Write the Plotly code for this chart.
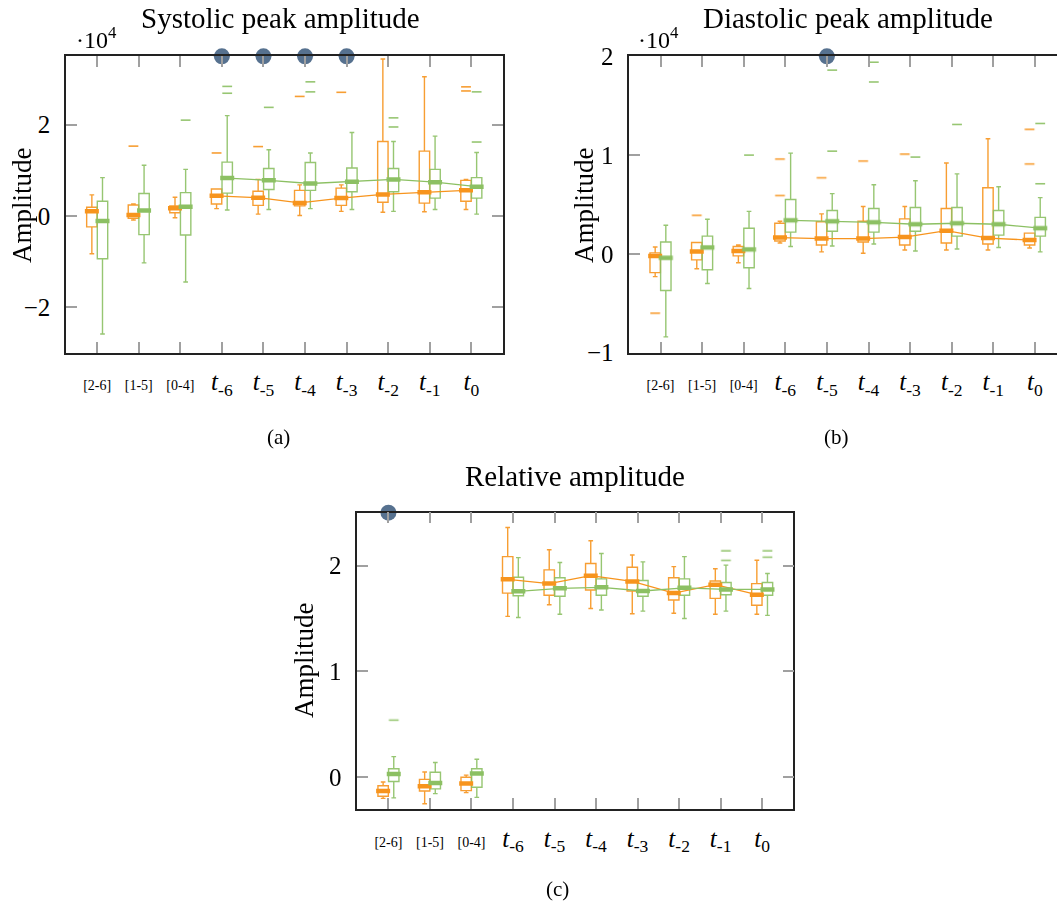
import plotly.graph_objects as go

W, H = 1057, 911
FONT = "Liberation Serif"
ORANGE = "#F7941D"
GREEN = "#8CC063"
DOT = "#56718F"

cats = ["[2-6]", "[1-5]", "[0-4]", "t-6", "t-5", "t-4", "t-3", "t-2", "t-1", "t0"]
tick_text = ["<span style='font-size:14px'>[2-6]</span>",
             "<span style='font-size:14px'>[1-5]</span>",
             "<span style='font-size:14px'>[0-4]</span>",
             "<i>t</i><sub>-6</sub>", "<i>t</i><sub>-5</sub>", "<i>t</i><sub>-4</sub>",
             "<i>t</i><sub>-3</sub>", "<i>t</i><sub>-2</sub>", "<i>t</i><sub>-1</sub>",
             "<i>t</i><sub>0</sub>"]

# ---------------- (a) Systolic peak amplitude  (x 10^4) ----------------
a_or_q1 = [-0.24, -0.05, 0.07, 0.26, 0.23, 0.22, 0.23, 0.30, 0.28, 0.32]
a_or_med = [0.10, 0.02, 0.17, 0.44, 0.40, 0.285, 0.39, 0.47, 0.52, 0.56]
a_or_q3 = [0.19, 0.24, 0.22, 0.59, 0.54, 0.56, 0.61, 1.63, 1.42, 0.78]
a_or_lo = [-0.83, -0.09, -0.04, 0.16, 0.04, 0.01, 0.10, 0.08, 0.09, 0.14]
a_or_hi = [0.46, 0.26, 0.41, 0.59, 0.80, 0.68, 0.68, 3.44, 3.05, 0.80]
a_or_out = [[], [1.53], [], [1.38], [1.52], [2.62], [2.71], [], [], [2.83, 2.74]]
a_gr_q1 = [-0.94, -0.41, -0.42, 0.50, 0.58, 0.56, 0.53, 0.53, 0.39, 0.39]
a_gr_med = [-0.11, 0.12, 0.20, 0.83, 0.78, 0.71, 0.75, 0.80, 0.74, 0.64]
a_gr_q3 = [0.32, 0.49, 0.51, 1.18, 1.04, 1.17, 1.05, 1.04, 1.02, 0.84]
a_gr_lo = [-2.59, -1.03, -1.45, 0.13, 0.14, 0.16, 0.14, 0.10, 0.14, 0.04]
a_gr_hi = [0.84, 1.11, 1.02, 2.20, 1.45, 1.38, 1.83, 1.63, 1.75, 1.39]
a_gr_out = [[], [], [2.10], [2.84, 2.69], [2.38], [2.94, 2.72], [], [2.15, 1.95], [], [2.72, 1.62]]
a_sig = [3, 4, 5, 6]

# ---------------- (b) Diastolic peak amplitude (x 10^4) ----------------
b_or_q1 = [-0.19, -0.06, -0.02, 0.13, 0.09, 0.12, 0.09, 0.11, 0.10, 0.09]
b_or_med = [-0.02, 0.025, 0.03, 0.165, 0.155, 0.155, 0.17, 0.235, 0.16, 0.14]
b_or_q3 = [0.01, 0.115, 0.075, 0.31, 0.325, 0.33, 0.355, 0.46, 0.67, 0.21]
b_or_lo = [-0.23, -0.15, -0.09, 0.11, 0.02, 0.007, 0.04, 0.04, 0.04, 0.06]
b_or_hi = [0.07, 0.115, 0.09, 0.33, 0.405, 0.48, 0.48, 0.92, 1.165, 0.21]
b_or_out = [[-0.60], [0.39], [], [0.96, 0.59], [0.77], [0.94], [1.01], [], [], [1.26, 0.91]]
b_gr_q1 = [-0.37, -0.16, -0.14, 0.22, 0.23, 0.22, 0.23, 0.18, 0.19, 0.18]
b_gr_med = [-0.04, 0.065, 0.045, 0.34, 0.33, 0.32, 0.30, 0.31, 0.30, 0.26]
b_gr_q3 = [0.12, 0.18, 0.26, 0.55, 0.44, 0.46, 0.47, 0.47, 0.44, 0.37]
b_gr_lo = [-0.84, -0.30, -0.35, 0.075, 0.08, 0.10, 0.03, 0.05, 0.065, 0.02]
b_gr_hi = [0.29, 0.35, 0.43, 1.02, 0.61, 0.70, 0.74, 0.81, 0.68, 0.57]
b_gr_out = [[], [], [1.00], [], [1.04, 1.86], [1.94, 1.74], [0.98], [1.31], [], [1.32, 0.71]]
b_sig = [4]

# ---------------- (c) Relative amplitude ----------------
c_or_q1 = [-0.18, -0.13, -0.126, 1.74, 1.72, 1.77, 1.76, 1.675, 1.69, 1.625]
c_or_med = [-0.13, -0.085, -0.06, 1.87, 1.83, 1.905, 1.85, 1.74, 1.82, 1.725]
c_or_q3 = [-0.08, -0.02, 0.0, 2.085, 1.96, 2.02, 1.985, 1.885, 1.855, 1.83]
c_or_lo = [-0.20, -0.25, -0.145, 1.52, 1.63, 1.595, 1.545, 1.55, 1.54, 1.54]
c_or_hi = [-0.045, 0.05, 0.02, 2.36, 2.15, 2.235, 2.10, 1.99, 1.97, 2.05]
c_or_out = [[], [], [], [], [], [], [], [], [], []]
c_gr_q1 = [-0.04, -0.11, -0.095, 1.715, 1.71, 1.72, 1.71, 1.72, 1.725, 1.72]
c_gr_med = [0.03, -0.054, 0.035, 1.757, 1.785, 1.795, 1.76, 1.79, 1.775, 1.775]
c_gr_q3 = [0.08, 0.047, 0.08, 1.89, 1.885, 1.875, 1.86, 1.875, 1.84, 1.84]
c_gr_lo = [-0.195, -0.155, -0.19, 1.51, 1.54, 1.58, 1.57, 1.50, 1.57, 1.53]
c_gr_hi = [0.195, 0.14, 0.17, 2.075, 2.03, 2.115, 2.035, 2.085, 2.005, 1.925]
c_gr_out = [[0.54], [], [], [], [], [], [], [], [2.14, 2.05], [2.14, 2.08]]
c_sig = [0]

OFF = 0.128
BOXW = 0.25
n = len(cats)
pos = list(range(n))
t_idx = [i for i, c in enumerate(cats) if c.startswith("t")]

fig = go.Figure()


def add_series(xa, ya, off, color, q1, med, q3, lo, hi, outs):
    xs = [p + off for p in pos]
    fig.add_trace(go.Box(
        x=xs, q1=q1, median=med, q3=q3, lowerfence=lo, upperfence=hi,
        orientation="v", width=BOXW, whiskerwidth=0.45,
        line=dict(color=color, width=1.4), fillcolor="rgba(0,0,0,0)",
        boxpoints=False, xaxis=xa, yaxis=ya, showlegend=False, opacity=0.9))
    fig.add_trace(go.Scatter(
        x=[xs[i] for i in t_idx], y=[med[i] for i in t_idx], mode="lines",
        line=dict(color=color, width=1.3), xaxis=xa, yaxis=ya, showlegend=False))
    fig.add_trace(go.Scatter(
        x=xs, y=med, mode="markers",
        marker=dict(symbol="line-ew", size=10, line=dict(color=color, width=4.5)),
        xaxis=xa, yaxis=ya, showlegend=False))
    ox, oy = [], []
    for i, vals in enumerate(outs):
        for v in vals:
            ox.append(xs[i])
            oy.append(v)
    if ox:
        fig.add_trace(go.Scatter(
            x=ox, y=oy, mode="markers",
            marker=dict(symbol="line-ew", size=7, line=dict(color=color, width=1.6)),
            xaxis=xa, yaxis=ya, showlegend=False, opacity=0.9))


def add_sig(xa, ya, sig, ytop):
    fig.add_trace(go.Scatter(
        x=sig, y=[ytop] * len(sig), mode="markers", cliponaxis=False,
        marker=dict(size=16, color=DOT), xaxis=xa, yaxis=ya, showlegend=False))


add_series("x", "y", -OFF, ORANGE, a_or_q1, a_or_med, a_or_q3, a_or_lo, a_or_hi, a_or_out)
add_series("x", "y", OFF, GREEN, a_gr_q1, a_gr_med, a_gr_q3, a_gr_lo, a_gr_hi, a_gr_out)
add_sig("x", "y", a_sig, 3.5)

add_series("x2", "y2", -OFF, ORANGE, b_or_q1, b_or_med, b_or_q3, b_or_lo, b_or_hi, b_or_out)
add_series("x2", "y2", OFF, GREEN, b_gr_q1, b_gr_med, b_gr_q3, b_gr_lo, b_gr_hi, b_gr_out)
add_sig("x2", "y2", b_sig, 2.0)

add_series("x3", "y3", -OFF, ORANGE, c_or_q1, c_or_med, c_or_q3, c_or_lo, c_or_hi, c_or_out)
add_series("x3", "y3", OFF, GREEN, c_gr_q1, c_gr_med, c_gr_q3, c_gr_lo, c_gr_hi, c_gr_out)
add_sig("x3", "y3", c_sig, 2.5)

SP = 41.6  # px per category


def xd(px):
    return px / W


def yd(py):
    return 1 - py / H


xbase = dict(tickmode="array", tickvals=pos, ticktext=tick_text, ticks="inside",
             ticklen=11, tickwidth=1.5, tickcolor="#A0A0A0", showline=True,
             linecolor="#222", linewidth=1.5, showgrid=False, zeroline=False,
             tickfont=dict(family=FONT, size=25, color="black"), ticklabelstandoff=6,
             automargin=False)
ybase = dict(ticks="inside", ticklen=11, tickwidth=1.5, tickcolor="#A0A0A0",
             showline=True, linecolor="#222", linewidth=1.5, showgrid=False,
             zeroline=False, tickfont=dict(family=FONT, size=25, color="black"),
             ticklabelstandoff=9, tickmode="array", automargin=False)

fig.update_layout(
    width=W, height=H, margin=dict(l=0, r=0, t=0, b=0, pad=0, autoexpand=False),
    paper_bgcolor="white", plot_bgcolor="white", boxmode="overlay", showlegend=False,
    xaxis=dict(xbase, domain=[xd(66), xd(502.5)], range=[-0.75, 9.75], anchor="y",
               mirror="allticks"),
    yaxis=dict(ybase, domain=[yd(352.7), yd(56.3)], range=[-3.0, 3.5], anchor="x",
               tickvals=[-2, 0, 2], ticktext=["\u22122", "0", "2"], mirror="allticks"),
    xaxis2=dict(xbase, domain=[xd(629.3), 1.0],
                range=[-0.75, -0.75 + (W - 629.3) / SP], anchor="y2", mirror="allticks"),
    yaxis2=dict(ybase, domain=[yd(352.7), yd(56.3)], range=[-1.0, 2.0], anchor="x2",
                tickvals=[-1, 0, 1, 2], ticktext=["\u22121", "0", "1", "2"], mirror=False),
    xaxis3=dict(xbase, domain=[xd(357.3), xd(793.3)], range=[-0.75, 9.75], anchor="y3",
                mirror="allticks"),
    yaxis3=dict(ybase, domain=[yd(809), yd(512.7)], range=[-0.3, 2.5], anchor="x3",
                tickvals=[0, 1, 2], ticktext=["0", "1", "2"], mirror="allticks"),
)

ann = []


def text(x, y, s, size=27, angle=0):
    ann.append(dict(x=xd(x), y=yd(y), xref="paper", yref="paper", text=s,
                    showarrow=False, xanchor="center", yanchor="middle", textangle=angle,
                    font=dict(family=FONT, size=size, color="black")))


text(280, 18, "Systolic peak amplitude", size=29)
text(848, 18, "Diastolic peak amplitude", size=29)
text(575, 476, "Relative amplitude", size=29)
text(96, 38, "\u00b710<sup>4</sup>", size=24)
text(658, 38, "\u00b710<sup>4</sup>", size=24)
text(22, 205, "Amplitude", angle=-90)
text(584, 205, "Amplitude", angle=-90)
text(304, 660, "Amplitude", angle=-90)
text(278, 437, "(a)", size=21)
text(836, 437, "(b)", size=21)
text(557, 889, "(c)", size=21)
fig.update_layout(annotations=ann)

fig.write_html("out.html", config={"displayModeBar": False},
               post_script="document.body.style.margin='0';document.body.style.overflow='hidden';")
